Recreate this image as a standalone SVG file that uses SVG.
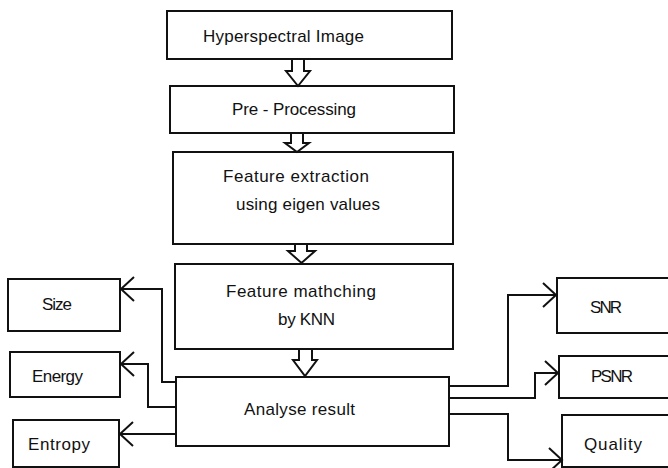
<svg xmlns="http://www.w3.org/2000/svg" width="668" height="468" viewBox="0 0 668 468">
<style>
.box{fill:#fff;stroke:#111;stroke-width:2}
.t{font-family:"Liberation Sans",Arial,sans-serif;font-size:17px;fill:#111}
.c{fill:none;stroke:#111;stroke-width:2}
.ba{fill:#fff;stroke:#111;stroke-width:2;stroke-linejoin:miter}
</style>
<defs>
<marker id="v" viewBox="0 0 14 26" refX="13" refY="13" markerWidth="14" markerHeight="26" markerUnits="userSpaceOnUse" orient="auto" overflow="visible">
<path d="M0,1 L13,13 L0,25" fill="none" stroke="#111" stroke-width="2"/>
</marker>
</defs>
<rect width="668" height="468" fill="#fff"/>
<g id="hyperspectral"><rect class="box" x="167" y="11" width="285" height="48"/><text class="t" x="203" y="42" textLength="161">Hyperspectral Image</text></g>
<g id="preprocessing"><rect class="box" x="170" y="86" width="284" height="47"/><text class="t" x="232" y="115" textLength="124">Pre - Processing</text></g>
<g id="extraction"><rect class="box" x="173" y="152" width="280" height="92"/><text class="t" x="223" y="182" textLength="146">Feature extraction</text><text class="t" x="236" y="210" textLength="144">using eigen values</text></g>
<g id="matching"><rect class="box" x="175" y="264" width="278" height="85"/><text class="t" x="226" y="297" textLength="150">Feature mathching</text><text class="t" x="278" y="325" textLength="57">by KNN</text></g>
<g id="analyse"><rect class="box" x="176" y="377" width="273" height="69"/><text class="t" x="244" y="415" textLength="111">Analyse result</text></g>
<g id="size"><rect class="box" x="8" y="279" width="112" height="52"/><text class="t" x="42" y="310" textLength="30">Size</text></g>
<g id="energy"><rect class="box" x="10" y="352" width="110" height="45"/><text class="t" x="32" y="382" textLength="51">Energy</text></g>
<g id="entropy"><rect class="box" x="13" y="420" width="106" height="47"/><text class="t" x="28" y="450" textLength="62">Entropy</text></g>
<g id="snr"><rect class="box" x="557" y="278" width="120" height="55"/><text class="t" x="590" y="313" textLength="32">SNR</text></g>
<g id="psnr"><rect class="box" x="559" y="356" width="120" height="42"/><text class="t" x="591" y="382" textLength="42">PSNR</text></g>
<g id="quality"><rect class="box" x="562" y="415" width="120" height="52"/><text class="t" x="584" y="450" textLength="58">Quality</text></g>
<g id="connectors">
<path class="ba" d="M292,59 L304,59 L304,71 L310,71 L298,86 L286,71 L292,71 Z"/>
<path class="ba" d="M291,133 L303,133 L303,143 L309,143 L297,152 L285,143 L291,143 Z"/>
<path class="ba" d="M295,244 L307,244 L307,251 L315,251 L301.5,263 L288,251 L295,251 Z"/>
<path class="ba" d="M299,349 L312,349 L312,360 L317,360 L305,376 L293,360 L299,360 Z"/>
<path class="c" d="M176,382 L162,382 L162,289 L121,289" marker-end="url(#v)"/>
<path class="c" d="M176,407 L148,407 L148,364 L121,364" marker-end="url(#v)"/>
<path class="c" d="M176,434 L120,434" marker-end="url(#v)"/>
<path class="c" d="M449,386 L508,386 L508,295 L556,295" marker-end="url(#v)"/>
<path class="c" d="M449,398 L535,398 L535,373 L558,373" marker-end="url(#v)"/>
<path class="c" d="M449,414 L508,414 L508,460 L562,460" marker-end="url(#v)"/>
</g>
</svg>
